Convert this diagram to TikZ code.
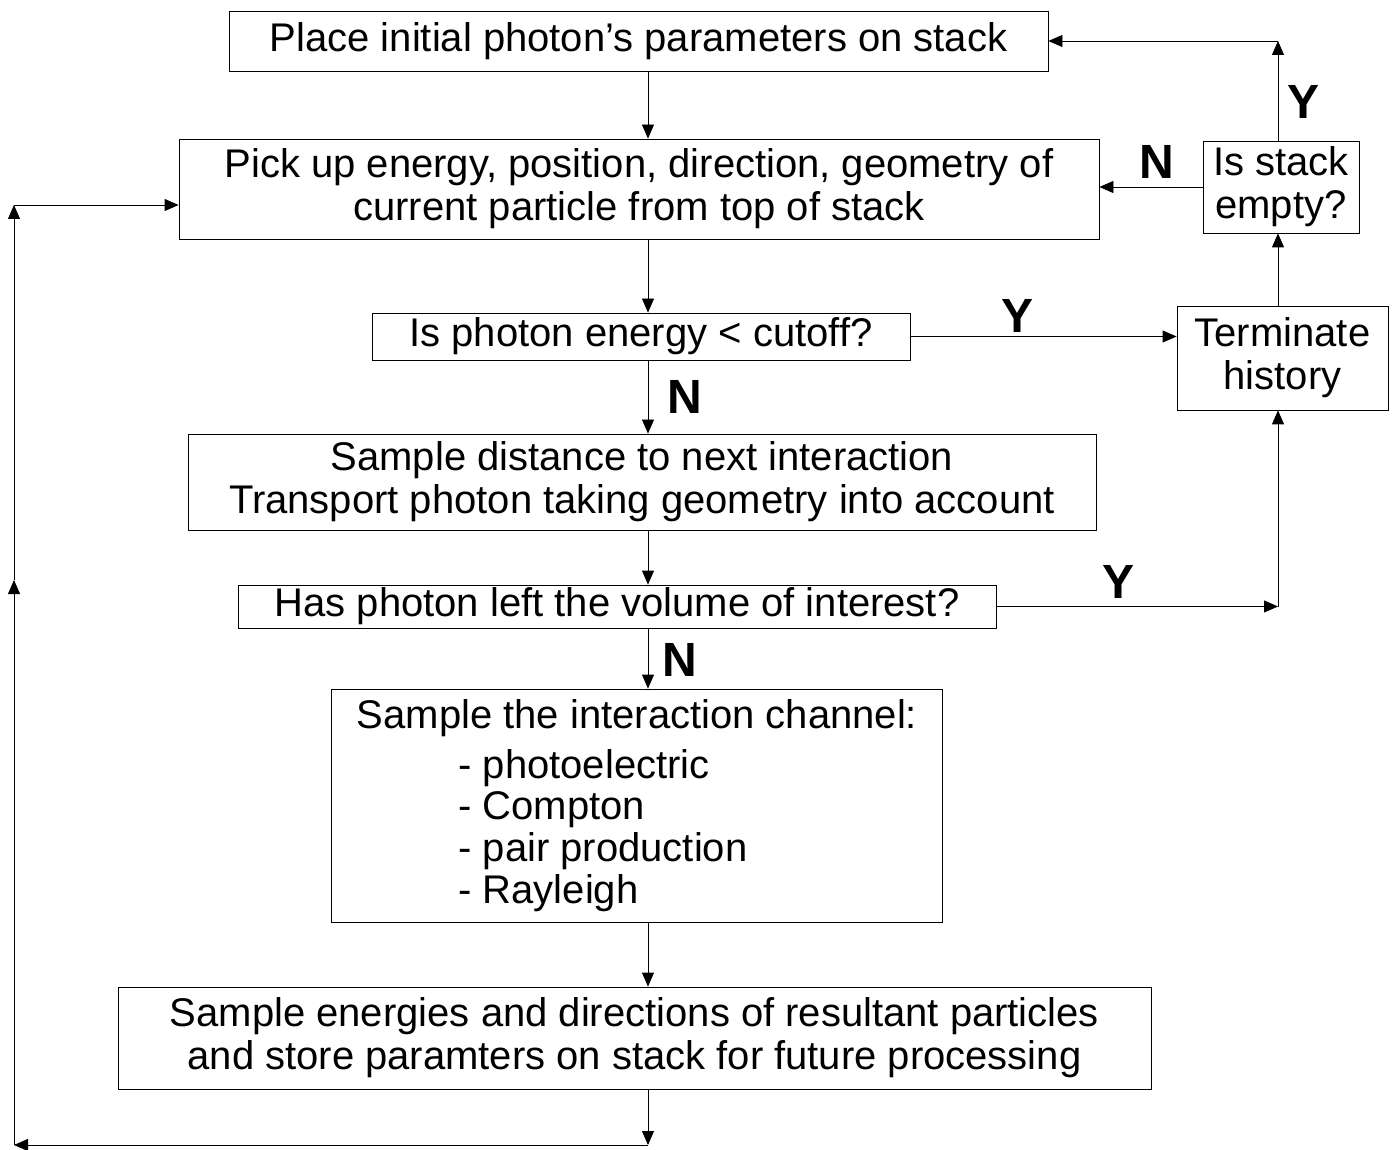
\documentclass[tikz,border=0pt]{standalone}
\usepackage{fontspec}
\setmainfont{Liberation Sans}
\usetikzlibrary{arrows.meta}
\tikzset{
  box/.style={draw, thin, inner sep=0pt, align=center, font=\fontsize{20}{21.5}\selectfont},
  yn/.style={font=\fontsize{24}{24}\selectfont\bfseries},
  flow/.style={thin, -{Triangle[length=7pt,width=6pt]}},
  wire/.style={thin}
}
\begin{document}
\begin{tikzpicture}[x=0.5pt, y=-0.5pt]
    \useasboundingbox (0,0) rectangle (1394,1150);
    \node [box, minimum width=409.5pt, minimum height=30pt] (Place) at (638.5,41) {Place initial photon’s parameters on stack};
    \node [box, minimum width=460pt, minimum height=50pt] (Pick) at (639,189) {Pick up energy, position, direction, geometry of\\current particle from top of stack};
    \node [box, minimum width=269pt, minimum height=23.5pt] (Cutoff) at (641,336.5) {Is photon energy < cutoff?};
    \node [box, minimum width=454pt, minimum height=48pt] (Distance) at (642,482) {Sample distance to next interaction\\Transport photon taking geometry into account};
    \node [box, minimum width=379pt, minimum height=21.5pt] (Left) at (617,606.5) {Has photon left the volume of interest?};
    \node [box, minimum width=305.5pt, minimum height=116.5pt] (Channel) at (636.5,805.5) {};
    \node [box, draw=none] (ChannelTitle) at (637,718) {Sample the interaction channel:};
    \node [box, draw=none, align=left, anchor=west, font=\fontsize{20}{20.85}\selectfont] (ChannelList) at (458,830.5) {- photoelectric\\- Compton\\- pair production\\- Rayleigh};
    \node [box, minimum width=516.5pt, minimum height=51pt] (Energies) at (634.5,1038) {Sample energies and directions of resultant particles\\and store paramters on stack for future processing};
    \node [box, minimum width=78pt, minimum height=46pt] (Stack) at (1281,187) {Is stack\\empty?};
    \node [box, minimum width=105.5pt, minimum height=52pt] (Terminate) at (1282.5,358) {Terminate\\history};

    % spine and side columns
    \coordinate (spine) at (648,0);
    \coordinate (col) at (1278,0);
    \coordinate (loopBR) at (648,1145);
    \coordinate (loopBL) at (14,1145);
    \coordinate (loopML) at (14,580);
    \coordinate (loopTL) at (14,205);

    \draw [flow] (Place.south -| spine) -- (Pick.north -| spine);
    \draw [flow] (Pick.south -| spine) -- (Cutoff.north -| spine);
    \draw [flow] (Cutoff.south -| spine) -- (Distance.north -| spine);
    \draw [flow] (Distance.south -| spine) -- (Left.north -| spine);
    \draw [flow] (Left.south -| spine) -- (Channel.north -| spine);
    \draw [flow] (Channel.south -| spine) -- (Energies.north -| spine);
    \draw [flow] (Energies.south -| spine) -- (loopBR);
    \draw [flow] (loopBR) -- (loopBL);
    \draw [flow] (loopBL) -- (loopML);
    \draw [flow] (loopML) -- (loopTL);
    \draw [flow] (loopTL) -- (loopTL -| Pick.west);

    \draw [flow] (Cutoff.east) -- (Cutoff.east -| Terminate.west);
    \draw [flow] (Left.east) -- (Left.east -| col);
    \draw [flow] (Left.east -| col) -- (Terminate.south -| col);
    \draw [flow] (Terminate.north -| col) -- (Stack.south -| col);
    \draw [flow] (Stack.west) -- (Stack.west -| Pick.east);
    \draw [flow] (Stack.north -| col) -- (Place.east -| col);
    \draw [flow] (Place.east -| col) -- (Place.east);

    \node [yn] (YesCutoff) at (1018,316) {Y};
    \node [yn] (NoCutoff) at (685,397) {N};
    \node [yn] (YesLeft) at (1118,582) {Y};
    \node [yn] (NoLeft) at (680,660) {N};
    \node [yn] (NoStack) at (1157,162) {N};
    \node [yn] (YesStack) at (1303,102) {Y};
\end{tikzpicture}
\end{document}
